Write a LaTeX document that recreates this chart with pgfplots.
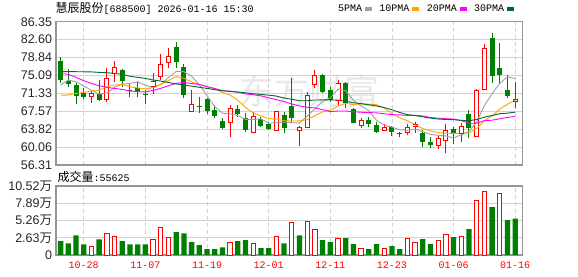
\documentclass[border=0pt]{standalone}
\usepackage{fontspec}
\usepackage{pgfplots}
\usepackage{pgfplotstable}
\pgfplotsset{compat=1.18}
\newfontfamily\lsans{Liberation Sans}
\newfontfamily\lmono{Liberation Mono}
\newfontfamily\cjk{Noto Sans CJK SC}
\definecolor{cred}{RGB}{255,0,0}
\definecolor{cgreen}{RGB}{0,128,0}
\definecolor{cma5}{RGB}{160,160,160}
\definecolor{cma10}{RGB}{255,165,0}
\definecolor{cma20}{RGB}{255,0,255}
\definecolor{cma30}{RGB}{0,102,51}
\definecolor{cframe}{RGB}{150,150,150}
\definecolor{cgrid}{RGB}{210,210,210}

% up (red, hollow) candles: index open close high low
\pgfplotstableread{
i o c h l
4 70.62 71.32 71.74 69.37
6 70.06 74.47 76.56 69.57
7 75.52 76.77 78.03 73.77
12 72.72 73.91 75.52 71.18
13 74.82 77.47 79.57 74.12
14 77.82 79.15 80.76 76.56
17 67.48 69.09 72.02 67.48
22 65.24 68.18 68.88 62.24
25 63.07 66.57 67.48 62.93
28 63.49 67.48 67.69 63.42
31 63.49 64.19 64.47 60.28
32 64.12 70.97 71.67 64.00
33 73.21 75.17 76.21 72.37
36 69.92 73.42 74.12 68.88
39 64.54 65.73 66.08 63.98
42 63.63 64.12 64.82 63.42
45 63.07 64.19 64.89 62.59
46 64.33 64.82 65.38 63.07
49 60.49 61.89 62.59 59.58
50 61.54 63.63 64.89 58.88
52 62.93 64.47 65.03 61.05
54 62.24 72.02 72.23 62.20
55 72.16 80.76 81.67 72.10
59 69.57 70.13 73.77 68.18
}\uptab

% down (green, filled) candles
\pgfplotstableread{
i o c h l
0 78.10 74.12 78.87 73.42
1 73.98 73.21 76.36 72.72
2 73.07 70.76 73.56 69.09
3 71.46 70.62 72.51 70.06
5 71.18 69.92 74.12 69.80
8 76.21 73.98 76.35 72.58
9 72.10 71.80 73.60 70.50
10 72.37 71.67 73.77 70.62
11 71.25 71.15 72.00 69.04
15 80.97 77.96 82.09 76.56
16 76.90 70.90 77.50 70.40
18 68.70 68.60 70.48 67.13
19 70.10 67.70 70.40 67.10
20 67.83 66.57 68.88 66.08
21 65.52 63.98 66.08 63.77
23 67.97 66.99 68.88 66.43
24 66.08 63.63 67.27 63.28
26 65.87 64.47 66.43 64.19
27 64.89 63.77 65.38 63.63
29 66.78 64.12 67.48 62.93
30 68.67 66.08 74.47 65.03
34 75.17 71.67 75.30 71.46
35 72.02 69.92 72.72 69.57
37 73.56 69.22 73.70 68.18
38 67.97 65.17 68.18 65.03
40 65.73 64.89 66.43 64.19
41 64.68 63.28 65.38 63.07
43 64.19 63.28 64.47 62.38
44 63.00 62.90 63.28 62.10
47 63.07 61.19 63.63 60.14
48 61.12 60.49 62.10 59.79
51 63.77 62.73 64.33 60.70
53 66.92 63.98 67.83 61.89
56 82.86 75.05 83.90 73.42
57 76.70 75.20 81.81 73.42
58 72.02 70.76 75.17 70.27
}\downtab

% moving averages
\pgfplotstableread{
i ma5 ma10 ma20 ma30
0 73.07 70.97 75.52 75.87
1 74.12 70.97 75.31 75.87
2 73.77 71.32 74.68 75.87
3 72.86 71.53 73.98 75.85
4 72.00 71.81 73.42 75.82
5 71.17 72.02 72.93 75.73
6 71.42 72.72 72.58 75.65
7 72.62 73.07 72.37 75.52
8 73.29 73.21 72.16 75.30
9 73.39 72.70 71.81 74.90
10 73.74 72.46 71.70 74.68
11 73.07 72.25 71.61 74.47
12 72.50 72.56 71.94 74.12
13 73.20 73.25 72.39 73.91
14 74.67 74.03 72.92 73.60
15 75.93 74.84 73.43 73.30
16 75.88 74.48 73.60 73.07
17 74.91 73.71 73.39 72.85
18 73.14 73.17 73.19 72.60
19 70.85 72.76 72.73 72.37
20 68.57 72.25 72.36 72.10
21 67.19 71.54 71.90 71.88
22 67.01 70.96 71.76 71.75
23 66.68 69.91 71.58 71.60
24 65.87 68.36 71.20 71.45
25 65.87 67.22 71.03 71.25
26 65.97 66.58 70.80 71.10
27 65.09 66.05 70.40 70.95
28 65.18 65.93 70.00 70.76
29 65.28 65.58 69.60 70.35
30 65.18 65.53 69.10 70.08
31 65.13 65.55 68.70 69.78
32 66.57 65.83 68.40 69.78
33 68.11 66.65 68.28 69.94
34 69.62 67.45 67.91 69.95
35 70.38 67.78 67.50 69.95
36 72.23 68.68 67.63 69.91
37 71.88 69.23 67.64 69.66
38 69.88 69.00 67.47 69.37
39 68.69 69.16 67.37 69.17
40 67.69 69.04 67.29 68.94
41 65.66 68.95 67.25 68.68
42 64.64 68.26 67.05 68.35
43 64.26 67.07 66.86 67.88
44 63.69 66.19 66.82 67.33
45 63.55 65.62 66.70 66.87
46 63.86 64.76 66.72 66.67
47 63.28 63.96 66.60 66.41
48 62.72 63.49 66.25 66.14
49 62.52 63.11 66.14 65.95
50 62.40 62.98 66.01 65.85
51 61.99 62.93 65.94 65.81
52 62.64 62.96 65.61 65.68
53 63.34 63.03 65.05 65.58
54 65.37 63.95 65.07 65.86
55 68.79 65.60 65.61 66.33
56 71.26 66.64 65.70 66.69
57 73.44 68.03 66.00 67.07
58 74.79 69.06 66.28 67.18
59 74.41 69.89 66.50 67.39
}\matab

% volume (10^4 shares), up days
\pgfplotstableread{
i v
4 1.26
6 3.23
7 2.78
12 2.38
13 4.20
14 2.68
22 1.92
25 1.77
28 2.88
30 4.96
32 5.16
33 3.95
36 2.53
39 1.06
42 1.06
45 2.53
46 1.92
49 2.27
50 3.14
52 2.88
54 8.31
55 9.68
57 9.37
}\volup

% volume, down days
\pgfplotstableread{
i v
0 2.12
1 1.77
2 2.99
3 1.62
5 2.38
8 2.12
9 1.62
10 1.62
11 1.62
15 3.49
16 3.29
17 1.97
18 1.51
19 0.91
20 0.91
21 1.16
23 2.12
24 2.27
26 1.06
27 1.06
29 1.77
31 2.99
34 2.27
35 1.97
37 2.58
38 1.67
40 0.91
41 1.67
43 1.36
44 0.91
47 2.43
48 1.67
51 2.73
53 3.95
56 7.29
58 5.31
59 5.56
}\voldown

\pgfplotsset{
  kbase/.style={
    scale only axis, width=466.7pt, xmin=-0.6, xmax=59.97,
    axis line style={cframe, line width=1.2pt},
    major tick length=0pt, tick style={draw=none},
    xtick={3,11,19,27,35,43,51,59},
    xmajorgrids, ymajorgrids,
    x grid style={cgrid, dash pattern=on 4pt off 3pt, line width=0.8pt},
    y grid style={cgrid, line width=0.8pt},
    yticklabel style={font=\lsans\fontsize{12.5}{12.5}\selectfont, text=black!85, anchor=east, inner sep=0pt, xshift=-3.7pt},
  },
  wick/.style={only marks, mark=*, mark size=0pt, mark options={draw=none, fill=none}, forget plot,
    error bars/.cd, y dir=plus, y explicit, error mark=none,
    error bar style={line width=1pt, draw=#1}},
  body/.style 2 args={only marks, mark=*, mark size=0pt, mark options={draw=none, fill=none}, forget plot,
    error bars/.cd, y dir=plus, y explicit, error mark=none,
    error bar style={line width=#2, draw=#1}},
}

\begin{document}
\begin{tikzpicture}[x=1pt,y=1pt]
\useasboundingbox (0,0) rectangle (578,276);
\node[text=black!9, font=\cjk\fontsize{35}{35}\selectfont] at (309,185) {东方财富};
\node[anchor=west, inner sep=0pt] at (55.5,267.5) {{\cjk\fontsize{12}{12}\selectfont 慧辰股份}{\lmono\fontsize{10}{10}\selectfont [688500] 2026-01-16 15:30}};
\node[anchor=west, inner sep=0pt] at (57.3,99.3) {{\cjk\fontsize{12}{12}\selectfont 成交量}{\lmono\fontsize{10}{10}\selectfont :55625}};

% price panel
\begin{axis}[kbase, at={(56pt,111pt)}, anchor=south west, height=143.3pt,
  ymin=56.31, ymax=86.35,
  ytick={56.31,60.06,63.82,67.57,71.33,75.09,78.84,82.60,86.35},
  yticklabels={56.31,60.06,63.82,67.57,71.33,75.09,78.84,82.60,86.35},
  xticklabels={},
  legend columns=4, legend plot pos=right,
  legend image code/.code={\fill (0pt,-1.3pt) rectangle (6pt,1.3pt);},
  legend style={at={(0.6043,1)}, anchor=south west, yshift=8.7pt, draw=none, fill=none,
    inner sep=0pt, outer sep=0pt, font=\lmono\fontsize{10}{10}\selectfont,
    /tikz/every odd column/.append style={column sep=3pt},
    /tikz/every even column/.append style={column sep=7.5pt},
    nodes={inner sep=0pt}},
]
\addplot[wick=cgreen] table[x=i, y=l, y error expr=\thisrow{h}-\thisrow{l}] {\downtab};
\addplot[body={cgreen}{5pt}] table[x=i, y=c, y error expr=\thisrow{o}-\thisrow{c}] {\downtab};
\addplot[wick=cred] table[x=i, y=l, y error expr=\thisrow{h}-\thisrow{l}] {\uptab};
\addplot[body={cred}{5pt}] table[x=i, y=o, y error expr=\thisrow{c}-\thisrow{o}] {\uptab};
\addplot[body={white}{3.2pt}] table[x=i, y=o, y error expr=\thisrow{c}-\thisrow{o}] {\uptab};
\addplot[only marks, mark=-, mark size=2.5pt, cred, line width=1pt, forget plot] table[x=i, y=o] {\uptab};
\addplot[only marks, mark=-, mark size=2.5pt, cred, line width=1pt, forget plot] table[x=i, y=c] {\uptab};
\addplot[cma5, line width=0.9pt, mark=none] table[x=i, y=ma5] {\matab};
\addplot[cma10, line width=0.9pt, mark=none] table[x=i, y=ma10] {\matab};
\addplot[cma20, line width=0.9pt, mark=none] table[x=i, y=ma20] {\matab};
\addplot[cma30, line width=0.9pt, mark=none] table[x=i, y=ma30] {\matab};
\legend{5PMA,10PMA,20PMA,30PMA}
\end{axis}

% volume panel
\begin{axis}[kbase, at={(56pt,21pt)}, anchor=south west, height=69pt,
  ymin=0, ymax=10.52,
  ytick={0,2.63,5.26,7.89,10.52},
  yticklabels={0,2.63{\cjk 万},5.26{\cjk 万},7.89{\cjk 万},10.52{\cjk 万}},
  xticklabels={10-28,11-07,11-19,12-01,12-11,12-23,01-06,01-16},
  xticklabel style={font=\lmono\fontsize{10}{10}\selectfont, text=cred, anchor=north, inner sep=0pt, yshift=-7pt},
]
\addplot[ybar, bar width=5.3pt, bar shift=0pt, draw=none, fill=cgreen] table[x=i, y=v] {\voldown};
\addplot[ybar, bar width=4.3pt, bar shift=0pt, draw=cred, fill=white, line width=1pt] table[x=i, y=v] {\volup};
\end{axis}
\end{tikzpicture}
\end{document}
